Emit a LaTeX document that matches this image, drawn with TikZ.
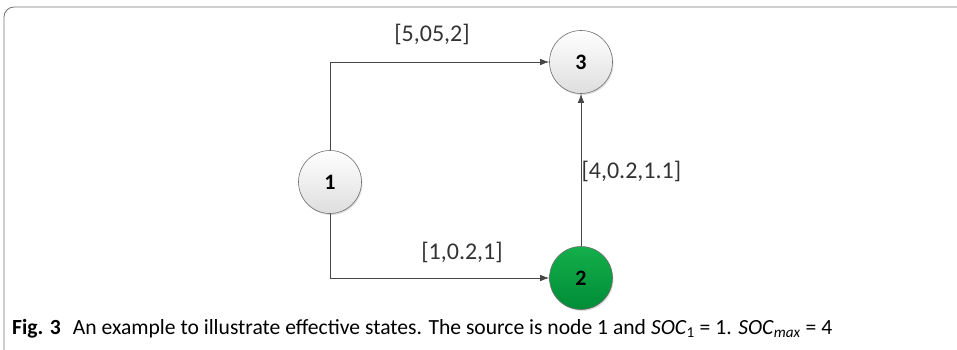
\documentclass[tikz,border=0pt]{standalone}
\usepackage{fontspec}
\setmainfont{Carlito}
\newfontfamily\capfont{Carlito}
\usetikzlibrary{arrows.meta,shadows}
\definecolor{edgegray}{RGB}{70,70,70}
\definecolor{nodeborder}{RGB}{110,110,110}
\definecolor{greentop}{RGB}{20,175,75}
\definecolor{greenbot}{RGB}{0,140,55}
\tikzset{
  statenode/.style={circle, draw=nodeborder, line width=0.6pt, minimum size=63pt, inner sep=0pt,
    font=\fontsize{22}{22}\selectfont\bfseries, top color=white, bottom color=black!13,
    drop shadow={shadow xshift=1pt, shadow yshift=-1.5pt, opacity=0.25}},
  greennode/.style={statenode, top color=greentop, bottom color=greenbot},
  conn/.style={draw=edgegray, line width=0.7pt, -{Latex[length=9pt,width=6.5pt]}},
  elabel/.style={font=\fontsize{24}{24}\selectfont, text=black!80},
}
\begin{document}
\begin{tikzpicture}[x=1pt,y=-1pt]
\useasboundingbox (0,0) rectangle (957,350);
\begin{scope}
\clip (0,0) rectangle (957,350);
\draw[black!55, line width=0.8pt, rounded corners=10pt] (4,7) rectangle (985,380);
\end{scope}
\node[statenode] (n1) at (330,182) {1};
\node[greennode] (n2) at (581,278) {2};
\node[statenode] (n3) at (581,62) {3};
\coordinate (c13) at (330,62);
\coordinate (c12) at (330,278);
\draw[conn] (n1.north) -- (c13) -- (n3.west);
\draw[conn] (n1.south) -- (c12) -- (n2.west);
\draw[conn] (n2.north) -- (n3.south);
\node[elabel] (l13) at (432,34) {[5,05,2]};
\node[elabel] (l12) at (462,252) {[1,0.2,1]};
\node[elabel, anchor=west] (l23) at (578,171) {[4,0.2,1.1]};
\node[anchor=base west, inner sep=0pt, font=\capfont\fontsize{21.6}{22}\selectfont] (cap) at (12,334)
  {\textbf{Fig. 3}\hspace{12pt}An example to illustrate effective states. The source is node 1 and \textit{SOC}\textsubscript{1} = 1. \textit{SOC}\textsubscript{\textit{max}} = 4};
\end{tikzpicture}
\end{document}
